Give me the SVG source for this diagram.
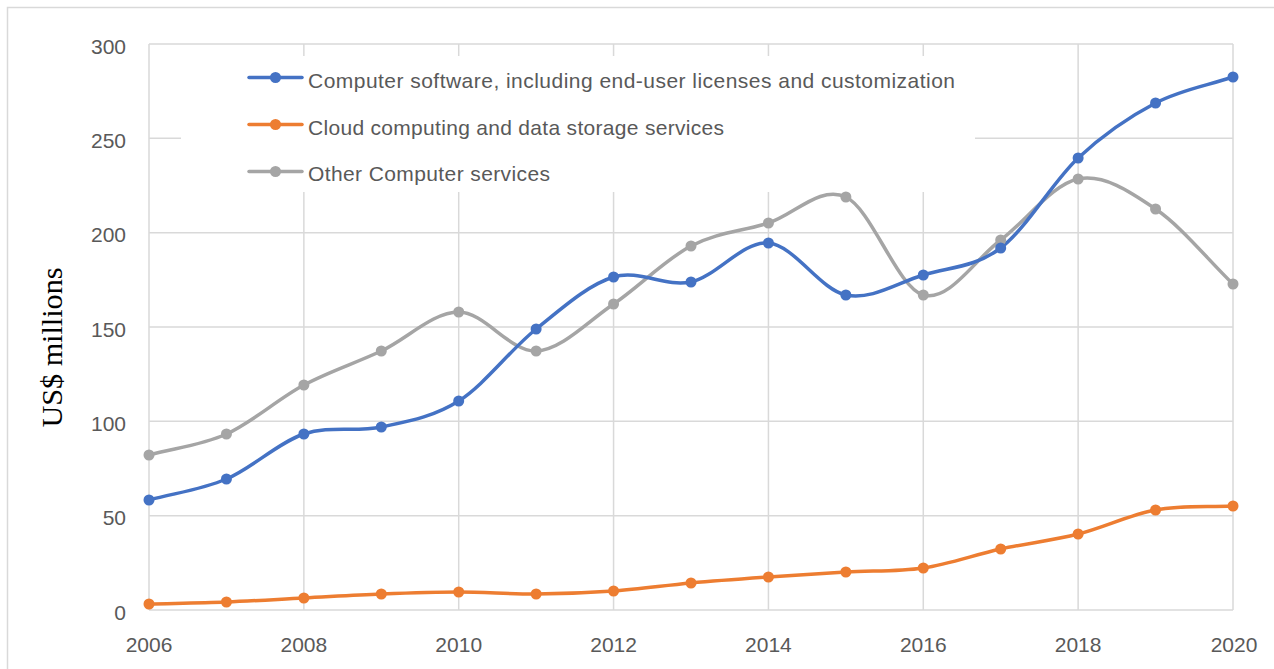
<svg xmlns="http://www.w3.org/2000/svg" width="1274" height="669" viewBox="0 0 1274 669">
  <style>
    .grid { stroke: #d9d9d9; stroke-width: 1.5; fill: none; }
    .tick { font-family: "Liberation Sans", Arial, sans-serif; font-size: 21px; fill: #595959; }
    .ylab { text-anchor: end; }
    .xlab { text-anchor: middle; }
    .legend-text { font-family: "Liberation Sans", Arial, sans-serif; font-size: 21px; fill: #595959; }
    .series { fill: none; stroke-width: 3.5; stroke-linecap: round; stroke-linejoin: round; }
    .software { stroke: #4472c4; }
    .cloud { stroke: #ed7d31; }
    .other { stroke: #a5a5a5; }
    .dot-software { fill: #4472c4; }
    .dot-cloud { fill: #ed7d31; }
    .dot-other { fill: #a5a5a5; }
  </style>
  <defs>
    <circle id="dot" r="5.5"/>
  </defs>

  <rect width="1274" height="669" fill="#ffffff"/>
  <!-- outer chart frame -->
  <rect x="7.5" y="7.5" width="1300" height="700" fill="none" stroke="#d9d9d9" stroke-width="1.5"/>

  <!-- gridlines -->
  <g id="gridlines">
    <path class="grid" d="M149,44H1233 M149,138.33H1233 M149,232.67H1233 M149,327H1233 M149,421.33H1233 M149,515.67H1233 M149,610H1233"/>
    <path class="grid" d="M149,44V610 M303.86,44V610 M458.71,44V610 M613.57,44V610 M768.43,44V610 M923.29,44V610 M1078.14,44V610 M1233,44V610"/>
  </g>

  <!-- y-axis labels -->
  <g id="y-axis">
    <text class="tick ylab" x="126" y="54">300</text>
    <text class="tick ylab" x="126" y="148">250</text>
    <text class="tick ylab" x="126" y="242">200</text>
    <text class="tick ylab" x="126" y="337">150</text>
    <text class="tick ylab" x="126" y="431">100</text>
    <text class="tick ylab" x="126" y="525">50</text>
    <text class="tick ylab" x="126" y="620">0</text>
    <text x="0" y="0" transform="translate(62,347.5) rotate(-90)" text-anchor="middle" font-family="'Liberation Serif', 'Times New Roman', serif" font-size="29" fill="#000000" textLength="160" lengthAdjust="spacingAndGlyphs">US$ millions</text>
  </g>

  <!-- x-axis labels -->
  <g id="x-axis">
    <text class="tick xlab" x="149" y="652">2006</text>
    <text class="tick xlab" x="303.86" y="652">2008</text>
    <text class="tick xlab" x="458.71" y="652">2010</text>
    <text class="tick xlab" x="613.57" y="652">2012</text>
    <text class="tick xlab" x="768.43" y="652">2014</text>
    <text class="tick xlab" x="923.29" y="652">2016</text>
    <text class="tick xlab" x="1078.14" y="652">2018</text>
    <text class="tick xlab" x="1234" y="652">2020</text>
  </g>

  <!-- legend -->
  <g id="legend">
    <rect x="181" y="56" width="794" height="136" fill="#ffffff"/>
    <g id="legend-software">
      <line class="series software" x1="249" y1="77.5" x2="302" y2="77.5"/>
      <use href="#dot" class="dot-software" x="275.5" y="77.5"/>
      <text class="legend-text" x="308" y="88" textLength="647" lengthAdjust="spacing">Computer software, including end-user licenses and customization</text>
    </g>
    <g id="legend-cloud">
      <line class="series cloud" x1="249" y1="124.5" x2="302" y2="124.5"/>
      <use href="#dot" class="dot-cloud" x="275.5" y="124.5"/>
      <text class="legend-text" x="308" y="135" textLength="416" lengthAdjust="spacing">Cloud computing and data storage services</text>
    </g>
    <g id="legend-other">
      <line class="series other" x1="249" y1="171.5" x2="302" y2="171.5"/>
      <use href="#dot" class="dot-other" x="275.5" y="171.5"/>
      <text class="legend-text" x="308" y="181" textLength="242" lengthAdjust="spacing">Other Computer services</text>
    </g>
  </g>

  <!-- data series (smoothed lines) -->
  <g id="connectors">
    <path id="line-other" class="series other" d="M149,455 C174.81,448 200.62,445.67 226.43,434 C252.24,422.33 278.05,398.83 303.86,385 C329.67,371.17 355.48,363.17 381.29,351 C407.1,338.83 432.9,312 458.71,312 C484.52,312 510.33,352.33 536.14,351 C561.95,349.67 587.76,321.5 613.57,304 C639.38,286.5 665.19,259.5 691,246 C716.81,232.5 742.62,231.17 768.43,223 C794.24,214.83 820.05,185 845.86,197 C871.67,209 897.48,287.83 923.29,295 C949.1,302.17 974.9,259.33 1000.71,240 C1026.52,220.67 1052.33,184.17 1078.14,179 C1103.95,173.83 1129.76,191.5 1155.57,209 C1181.38,226.5 1207.19,259 1233,284"/>
    <path id="line-cloud" class="series cloud" d="M149,604 C174.81,603.33 200.62,603 226.43,602 C252.24,601 278.05,599.33 303.86,598 C329.67,596.67 355.48,595 381.29,594 C407.1,593 432.9,592 458.71,592 C484.52,592 510.33,594.17 536.14,594 C561.95,593.83 587.76,592.83 613.57,591 C639.38,589.17 665.19,585.33 691,583 C716.81,580.67 742.62,578.83 768.43,577 C794.24,575.17 820.05,573.5 845.86,572 C871.67,570.5 897.48,571.83 923.29,568 C949.1,564.17 974.9,554.67 1000.71,549 C1026.52,543.33 1052.33,540.5 1078.14,534 C1103.95,527.5 1129.76,514.67 1155.57,510 C1181.38,505.33 1207.19,507.33 1233,506"/>
    <path id="line-software" class="series software" d="M149,500 C174.81,493 200.62,490 226.43,479 C252.24,468 278.05,442.67 303.86,434 C329.67,425.33 355.48,432.5 381.29,427 C407.1,421.5 432.9,417.33 458.71,401 C484.52,384.67 510.33,349.67 536.14,329 C561.95,308.33 587.76,284.83 613.57,277 C639.38,269.17 665.19,287.67 691,282 C716.81,276.33 742.62,240.83 768.43,243 C794.24,245.17 820.05,289.67 845.86,295 C871.67,300.33 897.48,282.83 923.29,275 C949.1,267.17 974.9,267.5 1000.71,248 C1026.52,228.5 1052.33,182.17 1078.14,158 C1103.95,133.83 1129.76,116.5 1155.57,103 C1181.38,89.5 1207.19,85.67 1233,77"/>
  </g>

  <!-- data markers -->
  <g id="markers-other" class="dot-other">
    <use href="#dot" x="149" y="455"/><use href="#dot" x="226.43" y="434"/><use href="#dot" x="303.86" y="385"/><use href="#dot" x="381.29" y="351"/><use href="#dot" x="458.71" y="312"/><use href="#dot" x="536.14" y="351"/><use href="#dot" x="613.57" y="304"/><use href="#dot" x="691" y="246"/><use href="#dot" x="768.43" y="223"/><use href="#dot" x="845.86" y="197"/><use href="#dot" x="923.29" y="295"/><use href="#dot" x="1000.71" y="240"/><use href="#dot" x="1078.14" y="179"/><use href="#dot" x="1155.57" y="209"/><use href="#dot" x="1233" y="284"/>
  </g>
  <g id="markers-cloud" class="dot-cloud">
    <use href="#dot" x="149" y="604"/><use href="#dot" x="226.43" y="602"/><use href="#dot" x="303.86" y="598"/><use href="#dot" x="381.29" y="594"/><use href="#dot" x="458.71" y="592"/><use href="#dot" x="536.14" y="594"/><use href="#dot" x="613.57" y="591"/><use href="#dot" x="691" y="583"/><use href="#dot" x="768.43" y="577"/><use href="#dot" x="845.86" y="572"/><use href="#dot" x="923.29" y="568"/><use href="#dot" x="1000.71" y="549"/><use href="#dot" x="1078.14" y="534"/><use href="#dot" x="1155.57" y="510"/><use href="#dot" x="1233" y="506"/>
  </g>
  <g id="markers-software" class="dot-software">
    <use href="#dot" x="149" y="500"/><use href="#dot" x="226.43" y="479"/><use href="#dot" x="303.86" y="434"/><use href="#dot" x="381.29" y="427"/><use href="#dot" x="458.71" y="401"/><use href="#dot" x="536.14" y="329"/><use href="#dot" x="613.57" y="277"/><use href="#dot" x="691" y="282"/><use href="#dot" x="768.43" y="243"/><use href="#dot" x="845.86" y="295"/><use href="#dot" x="923.29" y="275"/><use href="#dot" x="1000.71" y="248"/><use href="#dot" x="1078.14" y="158"/><use href="#dot" x="1155.57" y="103"/><use href="#dot" x="1233" y="77"/>
  </g>
</svg>
